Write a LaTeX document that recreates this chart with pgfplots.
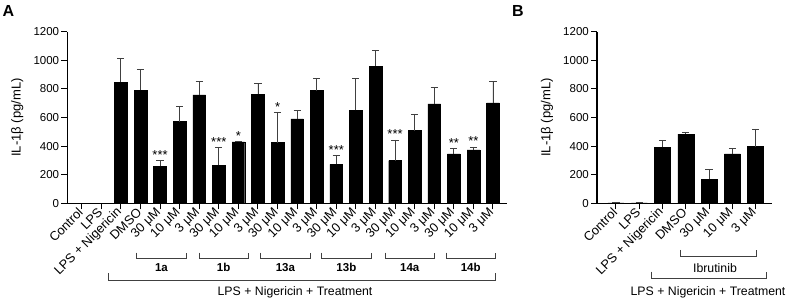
\documentclass[border=0pt]{standalone}
\usepackage{pgfplots}
\pgfplotsset{compat=1.18}
\usepackage{pgfplotstable}
\usepackage{fontspec}
\setmainfont{Liberation Sans}

\pgfplotstableread{
x y ey
2 848 166
3 790 149
4 259 42
5 571 107
6 758 93
7 266 126
8 429 5
9 762 78
10 424 212
11 590 58
12 788 86
13 273 60
14 650 222
15 960 112
16 298 145
17 508 117
18 695 116
19 345 37
20 373 21
21 702 147
}\dataA

\pgfplotstableread{
x y ey
0 3 5
1 3 5
2 392 49
3 483 14
4 168 70
5 345 40
6 396 124
}\dataB

\pgfplotsset{
  myaxis/.style={
    scale only axis,
    anchor=south west,
    height=171.6pt,
    ymin=0, ymax=1200,
    ytick={0,200,...,1200},
    axis x line*=bottom,
    axis y line*=left,
    axis line style={line width=1.2pt},
    tick style={line width=1pt, black},
    major tick length=6pt,
    tick align=outside,
    /pgf/number format/assume math mode=true,
    /pgf/number format/1000 sep={},
    yticklabel style={font=\fontsize{11.5}{13}\selectfont, inner sep=2pt},
    xticklabel style={font=\fontsize{12.8}{14}\selectfont, rotate=45, anchor=east, inner sep=1.5pt},
    every axis y label/.style={at={(axis description cs:0,0.5)}, xshift=-50pt, rotate=90, anchor=center, font=\fontsize{13}{15}\selectfont},
    ylabel={IL-1β (pg/mL)},
    clip=false,
  },
  mybar/.style={
    ybar, fill=black, draw=black, bar shift=0pt,
    error bars/y dir=plus, error bars/y explicit,
    error bars/error bar style={line width=0.8pt, black!75},
    error bars/error mark options={rotate=90, mark size=3.6pt, line width=0.8pt, black!75},
  },
}

\begin{document}
\begin{tikzpicture}
\useasboundingbox (0pt,0pt) rectangle (790pt,302pt);

% Panel A
\begin{axis}[myaxis,
  at={(67.3pt,98.7pt)},
  width=439.4pt,
  xmin=-0.735, xmax=21.70,
  xtick={0,...,21},
  xticklabels={Control,LPS,LPS + Nigericin,DMSO,30 μM,10 μM,3 μM,30 μM,10 μM,3 μM,30 μM,10 μM,3 μM,30 μM,10 μM,3 μM,30 μM,10 μM,3 μM,30 μM,10 μM,3 μM},
]
\addplot[bar width=12.7pt, mybar] table[x=x, y=y, y error=ey] {\dataA};
\tikzset{star/.style={anchor=base, font=\fontsize{13}{14}\selectfont, inner sep=0pt, yshift=1pt}}
\node[star] at (axis cs:4,301) {***};
\node[star] at (axis cs:7,392) {***};
\node[star] at (axis cs:8,434) {*};
\node[star] at (axis cs:10,636) {*};
\node[star] at (axis cs:13,333) {***};
\node[star] at (axis cs:16,443) {***};
\node[star] at (axis cs:19,382) {**};
\node[star] at (axis cs:20,394) {**};
\end{axis}

% Panel B
\begin{axis}[myaxis,
  at={(597pt,98.7pt)},
  width=174.7pt,
  xmin=-0.816, xmax=6.69,
  xtick={0,...,6},
  xticklabels={Control,LPS,LPS + Nigericin,DMSO,30 μM,10 μM,3 μM},
]
\addplot[bar width=16pt, mybar] table[x=x, y=y, y error=ey] {\dataB};
\end{axis}

\begin{scope}[x=1pt, y=1pt]
% Panel letters
\node[font=\bfseries\fontsize{16}{18}\selectfont] at (8.5,291) {A};
\node[font=\bfseries\fontsize{16}{18}\selectfont] at (518,291) {B};

% Group brackets A
\foreach \s/\lab in {136.7/1a,199/1b,260.7/13a,321.7/13b,385/14a,446/14b}{
  \draw[line width=0.8pt, black!75] (\s,49.3) -- (\s,43.7) -- (\s+49.5,43.7) -- (\s+49.5,49.3);
  \node[font=\bfseries\fontsize{11.5}{13}\selectfont] at (\s+24.7,34.3) {\lab};
}
\draw[line width=0.8pt, black!75] (108.3,28.7) -- (108.3,21.3) -- (495.7,21.3) -- (495.7,28.7);
\node[font=\fontsize{12.3}{14}\selectfont] at (295,9.5) {LPS + Nigericin + Treatment};

% Brackets B
\draw[line width=0.8pt, black!75] (680,52) -- (680,46) -- (756,46) -- (756,52);
\node[font=\fontsize{12.3}{14}\selectfont] at (715,33.7) {Ibrutinib};
\draw[line width=0.8pt, black!75] (651,30.3) -- (651,23.7) -- (766.7,23.7) -- (766.7,30.3);
\node[font=\fontsize{12.3}{14}\selectfont] at (708,9.5) {LPS + Nigericin + Treatment};
\end{scope}
\end{tikzpicture}
\end{document}
